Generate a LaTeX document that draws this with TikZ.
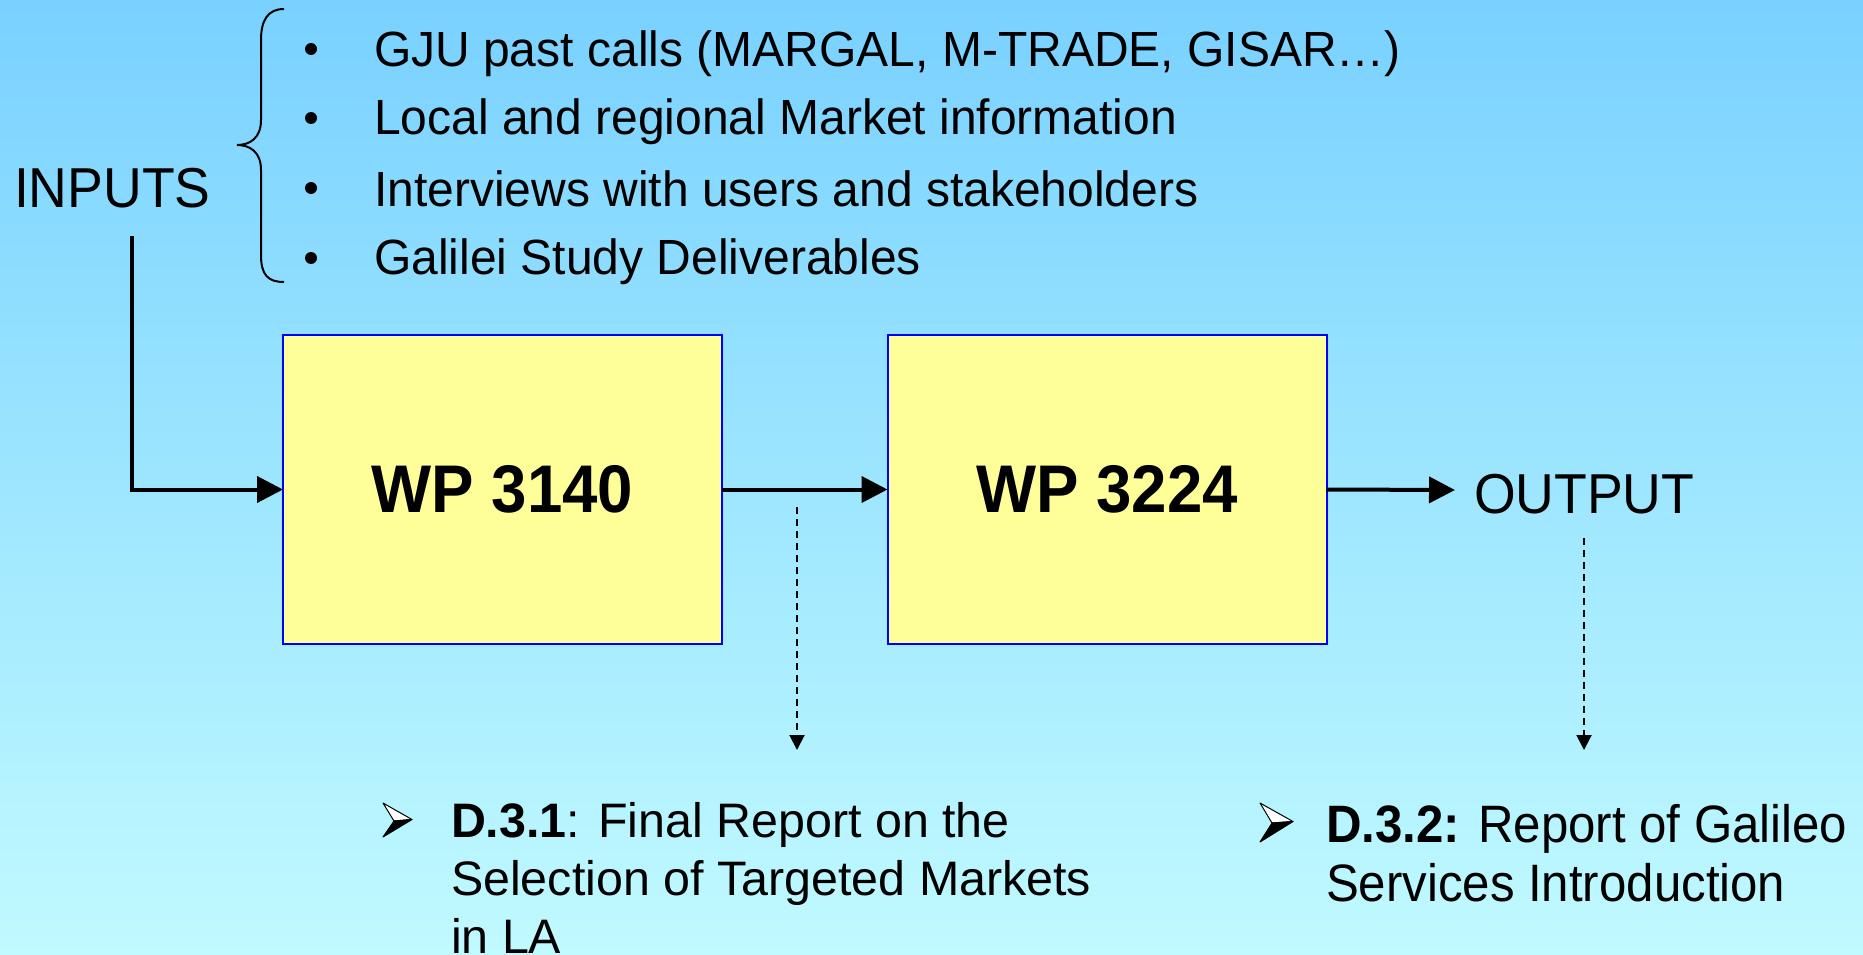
\documentclass[tikz,border=0pt]{standalone}
\usepackage{fontspec}
\setmainfont{Liberation Sans}
\usetikzlibrary{arrows.meta}
\definecolor{skytop}{HTML}{79D1FF}
\definecolor{skybot}{HTML}{C1FAFF}
\definecolor{wpfill}{HTML}{FFFF99}
\definecolor{wpline}{HTML}{0000FF}
\newcommand\fsz[1]{\fontsize{#1}{#1}\selectfont}
\newcommand\tallish[2]{\scalebox{1}[#1]{#2}}
\begin{document}
\begin{tikzpicture}[x=1pt,y=-1pt,
  every node/.style={inner sep=0pt,outer sep=0pt},
  wpbox/.style={draw=wpline,line width=2pt,fill=wpfill,minimum width=439pt,minimum height=309pt,font=\fsz{63.6}\bfseries},
  bigword/.style={anchor=base west,font=\fsz{53.6}},
  listline/.style={anchor=base west,font=\fsz{48}},
  delivline/.style={anchor=base west,font=\fsz{48.4}},
  delivtwo/.style={anchor=base west,font=\fsz{49.2}},
  flow/.style={line width=4pt,-{Triangle[length=26pt,width=26pt]}},
  feed/.style={line width=2pt,dash pattern=on 7pt off 5pt,-{Triangle[length=15pt,width=15pt]}},
  bulletdot/.style={fill=black,draw=none}]
  % background
  \shade[top color=skytop,bottom color=skybot] (0,0) rectangle (1863,955);
  \useasboundingbox (0,0) rectangle (1863,955);

  % inputs label, brace and bullet list
  \node[bigword] (inputs) at (14,207) {\tallish{1.05}{INPUTS}};
  \draw[line width=2pt] (284,9) .. controls (268,9) and (261,20) .. (261,40) -- (261,120)
    .. controls (261,138) and (250,145) .. (237,145)
    .. controls (250,145) and (261,152) .. (261,170) -- (261,255)
    .. controls (261,275) and (268,282) .. (284,282);
  \foreach \y in {49,118,188,258} \fill[bulletdot] (311,\y) circle (6pt);
  \node[listline] (in1) at (374,67)  {\tallish{1.03}{GJU past calls (MARGAL, M-TRADE, GISAR…)}};
  \node[listline] (in2) at (374,135) {\tallish{1.03}{Local and regional Market information}};
  \node[listline] (in3) at (374,206) {\tallish{1.03}{Interviews with users and stakeholders}};
  \node[listline] (in4) at (374,274) {\tallish{1.03}{Galilei Study Deliverables}};

  % work packages
  \node[wpbox] (wp1) at (502.5,489.5) {\tallish{1.06}{WP 3140}};
  \node[wpbox] (wp2) at (1107,489.5) {\tallish{1.06}{WP 3224}};
  \node[bigword] (out) at (1474,513) {\tallish{1.05}{OUTPUT}};

  % main flow
  \coordinate (instem) at (132,236);
  \coordinate (outtip) at (1455,490);
  \draw[flow] (instem) |- (wp1.west);
  \draw[flow] (wp1.east) -- (wp2.west);
  \draw[flow] (wp2.east) -- (outtip);

  % deliverable feeds
  \coordinate (f1a) at (797,507);
  \coordinate (f1b) at (797,750);
  \coordinate (f2a) at (1584,538);
  \coordinate (f2b) at (1584,750);
  \draw[feed] (f1a) -- (f1b);
  \draw[feed] (f2a) -- (f2b);

  % deliverable markers
  \filldraw[fill=white,draw=black,line width=1pt,line join=round] (383,803) -- (412,819.5) -- (394,821) -- cycle;
  \filldraw[fill=black,draw=black,line width=1pt,line join=round] (394,821) -- (412,819.5) -- (383,837) -- cycle;
  \filldraw[fill=white,draw=black,line width=1pt,line join=round] (1260,803) -- (1293,821.5) -- (1272,823) -- cycle;
  \filldraw[fill=black,draw=black,line width=1pt,line join=round] (1272,823) -- (1293,821.5) -- (1260,842) -- cycle;

  % deliverable texts
  \node[delivline] (d1l1) at (451,837) {\textbf{D.3.1}: Final Report on the};
  \node[delivline] (d1l2) at (451,895) {Selection of Targeted Markets};
  \node[delivline] (d1l3) at (451,953) {in LA};
  \node[delivtwo] (d2l1) at (1326,842) {\tallish{1.07}{\textbf{D.3.2:} Report of Galileo}};
  \node[delivtwo] (d2l2) at (1326,901) {\tallish{1.07}{Services Introduction}};
\end{tikzpicture}
\end{document}
